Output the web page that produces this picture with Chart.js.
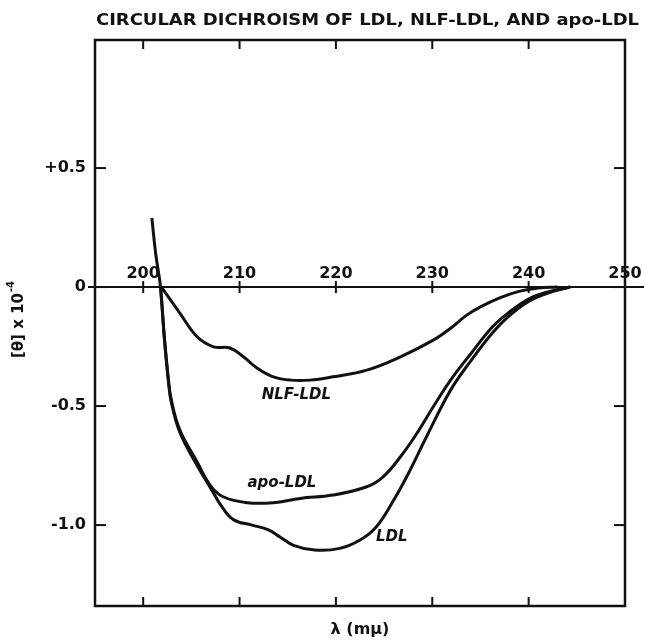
<!DOCTYPE html>
<html>
<head>
<meta charset="utf-8">
<script src="https://cdn.jsdelivr.net/npm/chart.js@4.4.1/dist/chart.umd.min.js"></script>
<style>
  body { margin: 0; background: #fff; }
  #wrap { width: 645px; height: 640px; }
</style>
</head>
<body>
<div id="wrap"><canvas id="cd"></canvas></div>
<script>
// text + ticks
var chartTitle = 'CIRCULAR DICHROISM OF LDL, NLF-LDL, AND apo-LDL';
var xTitle = 'λ (mμ)';
var xTicks = [200, 210, 220, 230, 240, 250];
var yTicks = [0.5, 0, -0.5, -1.0];
var yTickLabels = ['+0.5', '0', '-0.5', '-1.0'];

// LDL
var ldlLambda = [200.9, 201.3, 201.8, 202.2, 202.6, 202.9, 203.8, 205.6, 207.0, 208.2, 209.4, 211.3, 213.0, 214.2, 215.6, 217.8, 220.4, 222.5, 224.2, 226.0, 227.7, 229.4, 231.9, 234.0, 236.3, 238.0, 240.0, 242.0, 244.3];
var ldlTheta  = [0.29, 0.14, 0.0, -0.22, -0.39, -0.48, -0.61, -0.75, -0.845, -0.925, -0.978, -1.0, -1.02, -1.05, -1.085, -1.105, -1.098, -1.063, -1.007, -0.895, -0.769, -0.629, -0.433, -0.31, -0.19, -0.12, -0.06, -0.025, 0];

// apo-LDL
var apoLambda = [201.8, 202.2, 202.6, 202.9, 203.8, 205.6, 207.0, 208.3, 210.8, 213.5, 216.3, 219.7, 223.2, 224.9, 226.7, 228.4, 230.1, 231.9, 234.0, 236.3, 238.0, 240.0, 242.0, 244.3];
var apoTheta  = [0, -0.21, -0.38, -0.47, -0.60, -0.735, -0.835, -0.881, -0.906, -0.906, -0.888, -0.874, -0.839, -0.797, -0.713, -0.615, -0.503, -0.391, -0.28, -0.165, -0.105, -0.05, -0.02, 0];

// NLF-LDL
var nlfLambda = [201.9, 203.8, 205.6, 207.3, 209.0, 210.4, 211.8, 213.5, 215.3, 217.3, 219.7, 223.2, 226.7, 230.1, 232.0, 233.5, 235.0, 237.0, 239.0, 241.0, 243.0];
var nlfTheta  = [0, -0.109, -0.209, -0.251, -0.256, -0.293, -0.34, -0.377, -0.391, -0.391, -0.377, -0.349, -0.293, -0.223, -0.17, -0.12, -0.083, -0.045, -0.018, -0.004, 0];

// curve names, placed at (lambda, theta)
var curveNames = ['NLF-LDL', 'apo-LDL', 'LDL'];
var nameLambda = [215.9, 214.4, 225.8];
var nameTheta  = [-0.454, -0.824, -1.05];

function pts(xs, ys) {
  return xs.map(function (x, i) { return { x: x, y: ys[i] }; });
}

function curve(label, xs, ys) {
  return {
    label: label,
    data: pts(xs, ys),
    showLine: true,
    borderColor: '#111',
    borderWidth: 3,
    pointRadius: 0,
    tension: 0.4,
    fill: false
  };
}

var FONT = '"DejaVu Sans", sans-serif';

function seg(ctx, x1, y1, x2, y2) {
  ctx.beginPath(); ctx.moveTo(x1, y1); ctx.lineTo(x2, y2); ctx.stroke();
}

var frame = {
  id: 'frame',
  beforeDatasetsDraw: function (chart) {
    var ctx = chart.ctx, a = chart.chartArea;
    var xs = chart.scales.x, ys = chart.scales.y;
    ctx.save();
    ctx.strokeStyle = '#111';
    ctx.lineCap = 'square';
    ctx.lineWidth = 2.5;
    ctx.strokeRect(a.left, a.top, a.right - a.left, a.bottom - a.top);

    ctx.lineWidth = 2;
    xTicks.forEach(function (v) {
      if (v >= xs.max) return;
      var px = xs.getPixelForValue(v);
      seg(ctx, px, a.top, px, a.top + 8);
      seg(ctx, px, a.bottom, px, a.bottom - 8);
    });
    yTicks.forEach(function (v) {
      var py = ys.getPixelForValue(v);
      seg(ctx, a.left, py, a.left + 10, py);
      seg(ctx, a.right, py, a.right - 10, py);
    });

    // zero line with its own scale ticks
    var y0 = ys.getPixelForValue(0);
    seg(ctx, a.left - 6, y0, 643, y0);
    xTicks.forEach(function (v) {
      var px = xs.getPixelForValue(v);
      seg(ctx, px, y0 - 5, px, y0 + 5);
    });
    ctx.restore();
  },
  afterDraw: function (chart) {
    var ctx = chart.ctx, a = chart.chartArea;
    var xs = chart.scales.x, ys = chart.scales.y;
    ctx.save();
    ctx.fillStyle = '#111';

    // title, stretched to the plate width
    ctx.font = 'bold 16px ' + FONT;
    var w = ctx.measureText(chartTitle).width;
    ctx.save();
    ctx.translate(96, 25);
    ctx.scale(543 / w, 1);
    ctx.textAlign = 'left';
    ctx.textBaseline = 'alphabetic';
    ctx.fillText(chartTitle, 0, 0);
    ctx.restore();

    // x tick labels sit on the zero line
    var y0 = ys.getPixelForValue(0);
    ctx.font = 'bold 16px ' + FONT;
    ctx.textAlign = 'center';
    ctx.textBaseline = 'alphabetic';
    xTicks.forEach(function (v) {
      ctx.fillText(String(v), xs.getPixelForValue(v), y0 - 9);
    });

    // y tick labels
    ctx.textAlign = 'right';
    ctx.textBaseline = 'middle';
    yTicks.forEach(function (v, i) {
      ctx.fillText(yTickLabels[i], a.left - 9, ys.getPixelForValue(v));
    });

    // x title
    ctx.textAlign = 'center';
    ctx.fillText(xTitle, (a.left + a.right) / 2, 630);

    // y title, rotated
    ctx.save();
    ctx.translate(19, 320);
    ctx.rotate(-Math.PI / 2);
    var main = '[θ] x 10', sup = '-4';
    ctx.font = 'bold 15px ' + FONT;
    var mw = ctx.measureText(main).width;
    ctx.font = 'bold 10px ' + FONT;
    var sw = ctx.measureText(sup).width;
    var x0 = -(mw + sw) / 2;
    ctx.textAlign = 'left';
    ctx.textBaseline = 'middle';
    ctx.font = 'bold 15px ' + FONT;
    ctx.fillText(main, x0, 0);
    ctx.font = 'bold 10px ' + FONT;
    ctx.fillText(sup, x0 + mw + 1, -8);
    ctx.restore();

    // curve names
    ctx.font = 'italic bold 15px ' + FONT;
    ctx.textAlign = 'center';
    ctx.textBaseline = 'middle';
    curveNames.forEach(function (n, i) {
      ctx.fillText(n, xs.getPixelForValue(nameLambda[i]), ys.getPixelForValue(nameTheta[i]));
    });
    ctx.restore();
  }
};

new Chart(document.getElementById('cd'), {
  type: 'scatter',
  data: {
    datasets: [
      curve('LDL', ldlLambda, ldlTheta),
      curve('apo-LDL', apoLambda, apoTheta),
      curve('NLF-LDL', nlfLambda, nlfTheta)
    ]
  },
  options: {
    responsive: true,
    maintainAspectRatio: false,
    animation: false,
    layout: { padding: { left: 95, right: 20, top: 40, bottom: 34 } },
    plugins: { legend: { display: false }, tooltip: { enabled: false } },
    scales: {
      x: { type: 'linear', min: 195, max: 250, display: false },
      y: { type: 'linear', min: -1.34, max: 1.038, display: false }
    }
  },
  plugins: [frame]
});
</script>
</body>
</html>
